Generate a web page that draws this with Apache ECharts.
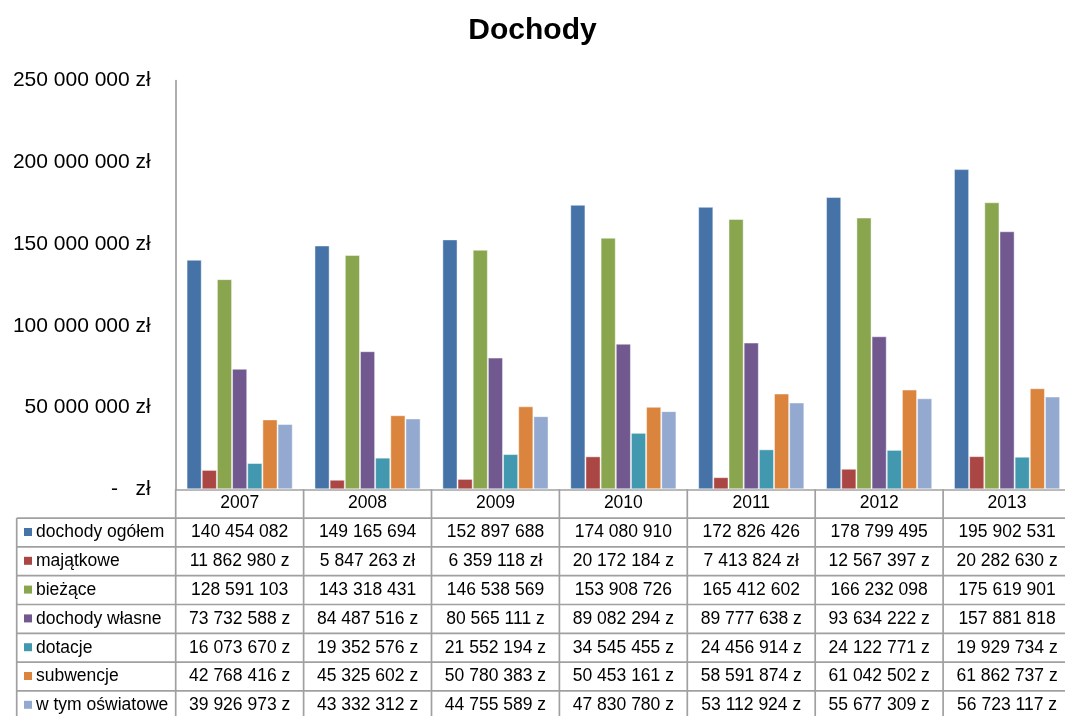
<!DOCTYPE html>
<html>
<head>
<meta charset="utf-8">
<script src="https://cdn.jsdelivr.net/npm/echarts@6/dist/echarts.min.js"></script>
<style>
  html, body { margin: 0; padding: 0; background: #fff; }
  #main { width: 1065px; height: 716px; }
</style>
</head>
<body>
<div id="main"></div>
<script>
const years = ['2007', '2008', '2009', '2010', '2011', '2012', '2013'];
const seriesNames = ['dochody ogółem', 'majątkowe', 'bieżące', 'dochody własne', 'dotacje', 'subwencje', 'w tym oświatowe'];
const dochodyOgolem = [140454082, 149165694, 152897688, 174080910, 172826426, 178799495, 195902531];
const majatkowe = [11862980, 5847263, 6359118, 20172184, 7413824, 12567397, 20282630];
const biezace = [128591103, 143318431, 146538569, 153908726, 165412602, 166232098, 175619901];
const dochodyWlasne = [73732588, 84487516, 80565111, 89082294, 89777638, 93634222, 157881818];
const dotacje = [16073670, 19352576, 21552194, 34545455, 24456914, 24122771, 19929734];
const subwencje = [42768416, 45325602, 50780383, 50453161, 58591874, 61042502, 61862737];
const oswiatowe = [39926973, 43332312, 44755589, 47830780, 53112924, 55677309, 56723117];
// what is left of the "zł" suffix in each table cell (cells are clipped in the original)
const sufOgolem = ['', '', '', '', '', '', ''];
const sufMajatkowe = [' z', ' zł', ' zł', ' z', ' zł', ' z', ' z'];
const sufBiezace = ['', '', '', '', '', '', ''];
const sufWlasne = [' z', ' z', ' z', ' z', ' z', ' z', ''];
const sufDotacje = [' z', ' z', ' z', ' z', ' z', ' z', ' z'];
const sufSubwencje = [' z', ' z', ' z', ' z', ' z', ' z', ' z'];
const sufOswiatowe = [' z', ' z', ' z', ' z', ' z', ' z', ' z'];
const yTicks = [0, 50000000, 100000000, 150000000, 200000000, 250000000];

const allValues = [dochodyOgolem, majatkowe, biezace, dochodyWlasne, dotacje, subwencje, oswiatowe];
const allSuffixes = [sufOgolem, sufMajatkowe, sufBiezace, sufWlasne, sufDotacje, sufSubwencje, sufOswiatowe];
const colors = ['#4572A7', '#AA4643', '#89A54E', '#71588F', '#4198AF', '#DB843D', '#93A9CF'];

const FONT = '"Liberation Sans", Arial, sans-serif';
const lineColor = '#a0a0a0';
const tableFont = 17.5;

function fmt(v) {
  return String(v).replace(/\B(?=(\d{3})+(?!\d))/g, ' ');
}

const chart = echarts.init(document.getElementById('main'));

chart.setOption({
  backgroundColor: '#fff',
  animation: false,
  title: {
    text: 'Dochody',
    left: 'center',
    top: 11,
    textStyle: { fontFamily: FONT, fontSize: 30, fontWeight: 'bold', color: '#000' }
  },
  grid: {
    left: 175.7,
    width: 895.3,   // the last column runs past the right edge, as in the original
    top: 80.7,
    bottom: 226.7,
    containLabel: false,
    outerBoundsMode: 'none'
  },
  xAxis: {
    type: 'category',
    data: years,
    axisLine: { show: true, lineStyle: { color: lineColor, width: 1.7 } },
    axisTick: { show: false },
    axisLabel: {
      margin: 14,
      verticalAlign: 'middle',
      fontFamily: FONT,
      fontSize: tableFont,
      color: '#000'
    }
  },
  yAxis: {
    type: 'value',
    min: yTicks[0],
    max: yTicks[yTicks.length - 1],
    interval: yTicks[1] - yTicks[0],
    splitLine: { show: false },
    axisLine: { show: true, lineStyle: { color: lineColor, width: 1.7 } },
    axisTick: { show: false },
    axisLabel: {
      margin: 25,
      fontFamily: FONT,
      fontSize: 21,
      color: '#000',
      formatter: v => v === 0 ? '-   zł' : fmt(v) + ' zł'
    }
  },
  series: seriesNames.map((name, i) => ({
    name: name,
    type: 'bar',
    data: allValues[i],
    barGap: '0%',
    barCategoryGap: '17%',
    itemStyle: {
      color: colors[i],
      borderColor: 'rgba(255,255,255,0.45)',
      borderWidth: 1
    }
  }))
});

// data table under the plot, placed from the axis scales
function buildTable() {
  const x0 = chart.convertToPixel({ xAxisIndex: 0 }, 0);
  const x1 = chart.convertToPixel({ xAxisIndex: 0 }, 1);
  const band = x1 - x0;
  const zeroY = chart.convertToPixel({ yAxisIndex: 0 }, 0);
  const rowH = 28.8;
  const tableLeft = 16.7;
  const colLeft = x0 - band / 2;
  const colRight = colLeft + band * years.length;
  const bottom = zeroY + rowH * (seriesNames.length + 1);
  const els = [];
  const line = (xa, ya, xb, yb) => els.push({
    type: 'line', z: 10,
    shape: { x1: xa, y1: ya, x2: xb, y2: yb },
    style: { stroke: lineColor, lineWidth: 1.7 }
  });
  // horizontal lines
  for (let r = 1; r <= seriesNames.length + 1; r++) {
    line(tableLeft, zeroY + r * rowH, colRight, zeroY + r * rowH);
  }
  // vertical lines
  line(tableLeft, zeroY + rowH, tableLeft, bottom);
  for (let k = 0; k <= years.length; k++) {
    const x = colLeft + k * band;
    line(x, zeroY, x, bottom);
  }
  seriesNames.forEach((name, r) => {
    const cy = zeroY + (r + 1.5) * rowH;
    els.push({
      type: 'rect', z: 11,
      shape: { x: 24, y: cy - 4.5, width: 8, height: 8 },
      style: { fill: colors[r] }
    });
    els.push({
      type: 'text', z: 11,
      x: 36, y: cy,
      style: {
        text: name, font: tableFont + 'px ' + FONT, fill: '#000',
        align: 'left', verticalAlign: 'middle',
        textAlign: 'left', textVerticalAlign: 'middle'
      }
    });
    years.forEach((yr, c) => {
      els.push({
        type: 'text', z: 11,
        x: chart.convertToPixel({ xAxisIndex: 0 }, c), y: cy,
        style: {
          text: fmt(allValues[r][c]) + allSuffixes[r][c],
          font: tableFont + 'px ' + FONT, fill: '#000',
          align: 'center', verticalAlign: 'middle',
          textAlign: 'center', textVerticalAlign: 'middle'
        }
      });
    });
  });
  chart.setOption({ graphic: { elements: els } });
}
buildTable();
</script>
</body>
</html>
